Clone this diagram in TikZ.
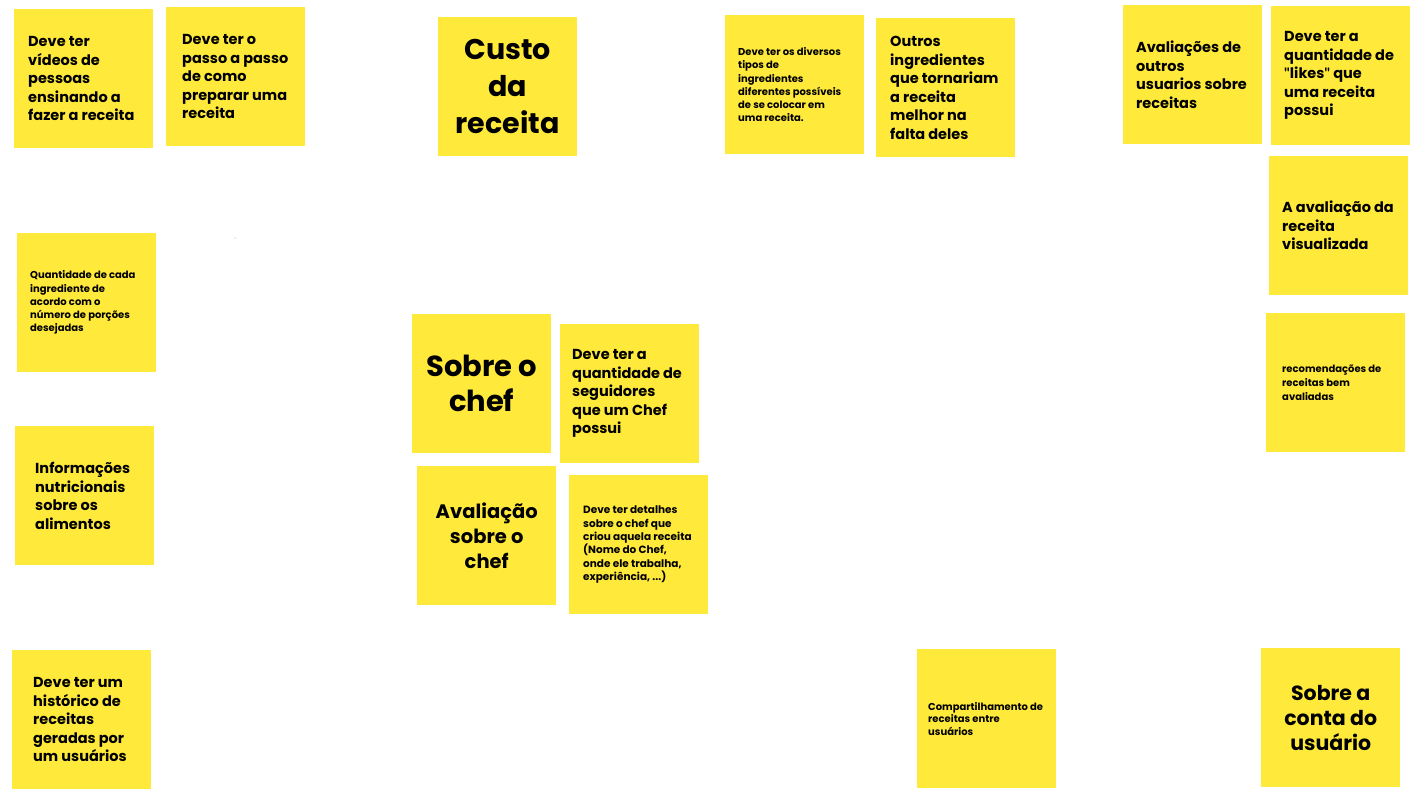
\documentclass[tikz,border=0pt]{standalone}
\usepackage{fontspec}
\setmainfont{Poppins}
\newfontfamily\qfont{Lato}
\newcommand{\sq}{{\qfont\bfseries\symbol{"22}}}
\definecolor{notey}{HTML}{FFEA3C}
\tikzset{
  note/.style={fill=notey, draw=none, minimum width=139pt, minimum height=139pt, inner sep=0pt, anchor=north west},
  txt/.style={anchor=west, align=left, inner sep=0pt, font=\bfseries\fontsize{14.5}{18.5}\selectfont},
  small/.style={anchor=west, align=left, inner sep=0pt, font=\bfseries\fontsize{10}{13.2}\selectfont},
  title/.style={align=center, inner sep=0pt},
}
\begin{document}
\begin{tikzpicture}[x=1pt,y=-1pt]
\useasboundingbox (0,0) rectangle (1422,800);
% boxes
\node[note] (n1) at (14,9) {};
\node[note] (n2) at (166,7) {};
\node[note] (n3) at (438,17) {};
\node[note] (n4) at (725,15) {};
\node[note] (n5) at (876,18) {};
\node[note] (n6) at (1123,5) {};
\node[note] (n7) at (1271,6) {};
\node[note] (n8) at (1269,156) {};
\node[note] (n9) at (17,233) {};
\node[note] (n11) at (15,426) {};
\node[note] (n12) at (412,314) {};
\node[note] (n13) at (560,324) {};
\node[note] (n14) at (417,466) {};
\node[note] (n15) at (569,475) {};
\node[note] (n16) at (12,650) {};
\node[note] (n17) at (917,649) {};
\node[note] (n18) at (1266,313) {};
\node[note] (n19) at (1261,648) {};
\fill[gray] (235,238) circle (0.5);
% texts
\node[txt] (t1) at ([xshift=14pt]n1.west) {Deve ter\\vídeos de\\pessoas\\ensinando a\\fazer a receita};
\node[txt] (t2) at ([xshift=16pt]n2.west) {Deve ter o\\passo a passo\\de como\\preparar uma\\receita};
\node[title, font=\bfseries\fontsize{28.5}{37}\selectfont] (t3) at (n3.center) {Custo\\da\\receita};
\node[small] (t4) at ([xshift=13pt]n4.west) {Deve ter os diversos\\tipos de\\ingredientes\\diferentes possíveis\\de se colocar em\\uma receita.};
\node[txt] (t5) at ([xshift=14pt]n5.west) {Outros\\ingredientes\\que tornariam\\a receita\\melhor na\\falta deles};
\node[txt] (t6) at ([xshift=13pt]n6.west) {Avaliações de\\outros\\usuarios sobre\\receitas};
\node[txt] (t7) at ([xshift=13pt]n7.west) {Deve ter a\\quantidade de\\\sq likes\sq{} que\\uma receita\\possui};
\node[txt] (t8) at ([xshift=13pt]n8.west) {A avaliação da\\receita\\visualizada};
\node[small] (t9) at ([xshift=13pt]n9.west) {Quantidade de cada\\ingrediente de\\acordo com o\\número de porções\\desejadas};
\node[txt] (t11) at ([xshift=20pt]n11.west) {Informações\\nutricionais\\sobre os\\alimentos};
\node[title, font=\bfseries\fontsize{29}{35}\selectfont] (t12) at (n12.center) {Sobre o\\chef};
\node[txt] (t13) at ([xshift=12pt]n13.west) {Deve ter a\\quantidade de\\seguidores\\que um Chef\\possui};
\node[title, font=\bfseries\fontsize{19.5}{25}\selectfont] (t14) at (n14.center) {Avaliação\\sobre o\\chef};
\node[small, font=\bfseries\fontsize{10.5}{13.4}\selectfont] (t15) at ([xshift=14pt]n15.west) {Deve ter detalhes\\sobre o chef que\\criou aquela receita\\(Nome do Chef,\\onde ele trabalha,\\experiência, ...)};
\node[txt] (t16) at ([xshift=21pt]n16.west) {Deve ter um\\histórico de\\receitas\\geradas por\\um usuários};
\node[small, font=\bfseries\fontsize{10}{12.6}\selectfont] (t17) at ([xshift=11pt]n17.west) {Compartilhamento de\\receitas entre\\usuários};
\node[small, font=\bfseries\fontsize{10}{14}\selectfont] (t18) at ([xshift=16pt]n18.west) {recomendações de\\receitas bem\\avaliadas};
\node[title, font=\bfseries\fontsize{20.5}{25}\selectfont] (t19) at (n19.center) {Sobre a\\conta do\\usuário};
\end{tikzpicture}
\end{document}
